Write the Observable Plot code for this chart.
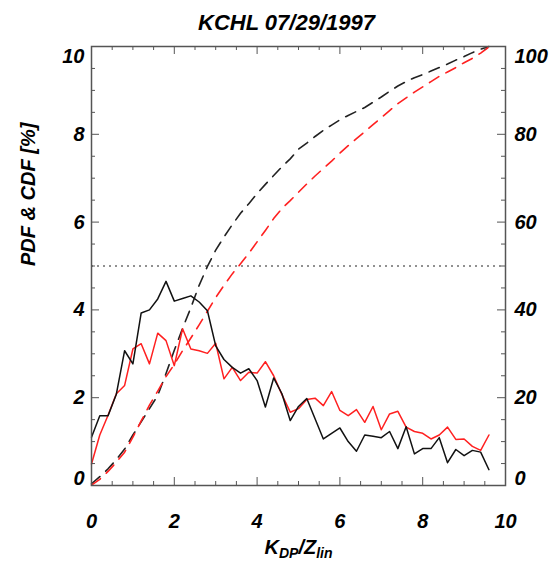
<!DOCTYPE html>
<html><head><meta charset="utf-8">
<script src="https://cdn.jsdelivr.net/npm/d3@7"></script>
<script src="https://cdn.jsdelivr.net/npm/@observablehq/plot@0.6"></script>
<style>html,body{margin:0;padding:0;background:#fff;} svg{display:block}</style>
</head><body><div id="chart"></div>
<script>
// ---- data ----
const titleText = "KCHL 07/29/1997";
const yTitle = "PDF & CDF [%]";
const xTitleParts = [["K", false], ["DP", true], ["/Z", false], ["lin", true]];
const xBins = [0,0.2,0.4,0.6,0.8,1,1.2,1.4,1.6,1.8,2,2.2,2.4,2.6,2.8,3,3.2,3.4,3.6,3.8,4,4.2,4.4,4.6,4.8,5,5.2,5.4,5.6,5.8,6,6.2,6.4,6.6,6.8,7,7.2,7.4,7.6,7.8,8,8.2,8.4,8.6,8.8,9,9.2,9.4,9.6];
const pdfBlack = [1.10,1.59,1.59,2.08,3.07,2.77,3.93,4.00,4.25,4.65,4.20,4.26,4.32,4.18,3.98,3.18,2.87,2.69,2.56,2.66,2.39,1.79,2.45,2.09,1.48,1.80,1.98,1.52,1.06,1.19,1.31,1.00,0.78,1.15,1.12,1.09,1.23,0.84,1.34,0.72,0.84,0.84,1.09,0.52,0.82,0.68,0.80,0.76,0.36];
const pdfRed = [0.49,1.15,1.60,2.09,2.28,3.11,3.23,2.77,3.47,3.30,2.73,3.57,3.11,3.07,3.01,3.24,2.43,2.69,2.39,2.58,2.56,2.82,2.50,2.07,1.67,1.75,1.96,1.99,1.82,2.14,1.71,1.59,1.73,1.44,1.80,1.27,1.63,1.69,1.33,1.23,1.19,1.06,1.15,1.33,1.05,1.06,0.89,0.80,1.15];
const cdfBlack = [0.4,2.0,3.8,5.9,8.3,11.5,14.5,17.5,20.5,25.5,30.8,35.8,40.5,45.6,49.9,53.6,56.6,59.4,62.0,64.2,66.5,68.6,70.6,72.6,74.4,76.6,78.0,79.5,80.9,82.1,83.3,84.3,85.2,86.1,87.3,88.5,89.8,91.0,92.0,92.9,93.6,94.4,95.2,96.0,96.9,97.7,98.6,99.4,100.0];
const cdfRed = [0.1,1.4,3.2,5.3,7.6,11.0,14.7,18.3,21.5,24.8,27.6,30.7,33.6,36.6,39.7,42.8,45.6,48.2,50.5,52.9,55.5,58.1,60.8,63.1,64.9,66.8,68.7,70.5,72.2,73.9,75.7,77.4,79.0,80.6,82.2,83.8,85.4,87.0,88.3,89.6,90.8,92.0,93.2,94.2,95.2,96.3,97.3,98.5,99.9];
const halfLevel = 50; // % on the right (CDF) axis
const xMajor = [0,2,4,6,8,10];
const xMinor = [0.5,1,1.5,2.5,3,3.5,4.5,5,5.5,6.5,7,7.5,8.5,9,9.5];
const yMajor = [0,2,4,6,8,10];
const yMinor = [0.5,1,1.5,2.5,3,3.5,4.5,5,5.5,6.5,7,7.5,8.5,9,9.5];
const yMidLabels = [2,4,6,8];
const yTopLabel = [10];
const yBottomLabel = [0];

// ---- layout ----
const W = 554, H = 563, mL = 91, mR = 49, mT = 46, mB = 78;
const fw = W - mL - mR, fh = H - mT - mB;
const axisColor = "#555";
const F = {fontFamily: "Liberation Sans, Arial, sans-serif", fontWeight: "bold", fontStyle: "italic"};

const rows = xBins.map((x, i) => ({x, pdfK: pdfBlack[i], pdfR: pdfRed[i], cdfK: cdfBlack[i], cdfR: cdfRed[i]}));
const pctToLeft = v => v / 10;
const xTitleFlat = xTitleParts.map(p => p[0]).join("");

const tickStyle = {stroke: axisColor, strokeWidth: 1};
const leftAxisOpts = {anchor: "left", tickSize: 0, tickPadding: 7, fontSize: 20, label: null, ...F, fill: "#000"};
const rightAxisOpts = {anchor: "right", tickSize: 0, tickPadding: 9, fontSize: 20, label: null, tickFormat: d => d * 10, ...F, fill: "#000"};

const chart = Plot.plot({
  width: W, height: H,
  marginLeft: mL, marginRight: mR, marginTop: mT, marginBottom: mB,
  x: {domain: [0, 10]},
  y: {domain: [0, 10]},
  style: {background: "#fff", color: "#000"},
  marks: [
    Plot.ruleY([pctToLeft(halfLevel)], {stroke: "#222", strokeWidth: 1, strokeDasharray: "2,4"}),
    Plot.line(rows, {x: "x", y: d => pctToLeft(d.cdfK), stroke: "#222", strokeWidth: 1.6, strokeDasharray: "11,8"}),
    Plot.line(rows, {x: "x", y: d => pctToLeft(d.cdfR), stroke: "#ff2020", strokeWidth: 1.6, strokeDasharray: "11,8"}),
    Plot.line(rows, {x: "x", y: "pdfR", stroke: "#ff2020", strokeWidth: 1.5}),
    Plot.line(rows, {x: "x", y: "pdfK", stroke: "#111", strokeWidth: 1.5}),
    // inward ticks on all four sides
    Plot.tickX(xMajor, {x: d => d, insetTop: fh - 8, ...tickStyle}),
    Plot.tickX(xMajor, {x: d => d, insetBottom: fh - 8, ...tickStyle}),
    Plot.tickX(xMinor, {x: d => d, insetTop: fh - 4, ...tickStyle}),
    Plot.tickX(xMinor, {x: d => d, insetBottom: fh - 4, ...tickStyle}),
    Plot.tickY(yMajor, {y: d => d, insetRight: fw - 8, ...tickStyle}),
    Plot.tickY(yMajor, {y: d => d, insetLeft: fw - 8, ...tickStyle}),
    Plot.tickY(yMinor, {y: d => d, insetRight: fw - 4, ...tickStyle}),
    Plot.tickY(yMinor, {y: d => d, insetLeft: fw - 4, ...tickStyle}),
    Plot.frame({stroke: axisColor, strokeWidth: 1.5}),
    // tick labels
    Plot.axisX(xMajor, {anchor: "bottom", tickSize: 0, tickPadding: 28, fontSize: 20, label: null, ...F, fill: "#000"}),
    Plot.axisY(yMidLabels, leftAxisOpts),
    Plot.axisY(yTopLabel, {...leftAxisOpts, dy: 10}),
    Plot.axisY(yBottomLabel, {...leftAxisOpts, dy: -7}),
    Plot.axisY(yMidLabels, rightAxisOpts),
    Plot.axisY(yTopLabel, {...rightAxisOpts, dy: 10}),
    Plot.axisY(yBottomLabel, {...rightAxisOpts, dy: -7}),
    // titles
    Plot.text([titleText], {text: d => d, frameAnchor: "top", dy: -24, dx: -12, fontSize: 22, lineAnchor: "middle", ...F, fill: "#000"}),
    Plot.text([yTitle], {text: d => d, frameAnchor: "left", rotate: -90, dx: -63, fontSize: 20, lineAnchor: "middle", ...F, fill: "#000"}),
    Plot.text([xTitleFlat], {text: d => d, frameAnchor: "bottom", dy: 62, fontSize: 20, lineAnchor: "middle", ...F, fill: "#000"})
  ]
});

// subscripts for the x title
d3.select(chart).selectAll("text").filter(function () { return this.textContent === xTitleFlat; }).each(function () {
  const t = d3.select(this);
  t.text(null);
  let shifted = false;
  for (const [s, sub] of xTitleParts) {
    const sp = t.append("tspan").text(s);
    if (sub && !shifted) { sp.attr("font-size", 14).attr("dy", 4); shifted = true; }
    else if (sub) { sp.attr("font-size", 14); }
    else if (shifted) { sp.attr("dy", -4); shifted = false; }
  }
});

document.getElementById("chart").appendChild(chart);
</script>
</body></html>
